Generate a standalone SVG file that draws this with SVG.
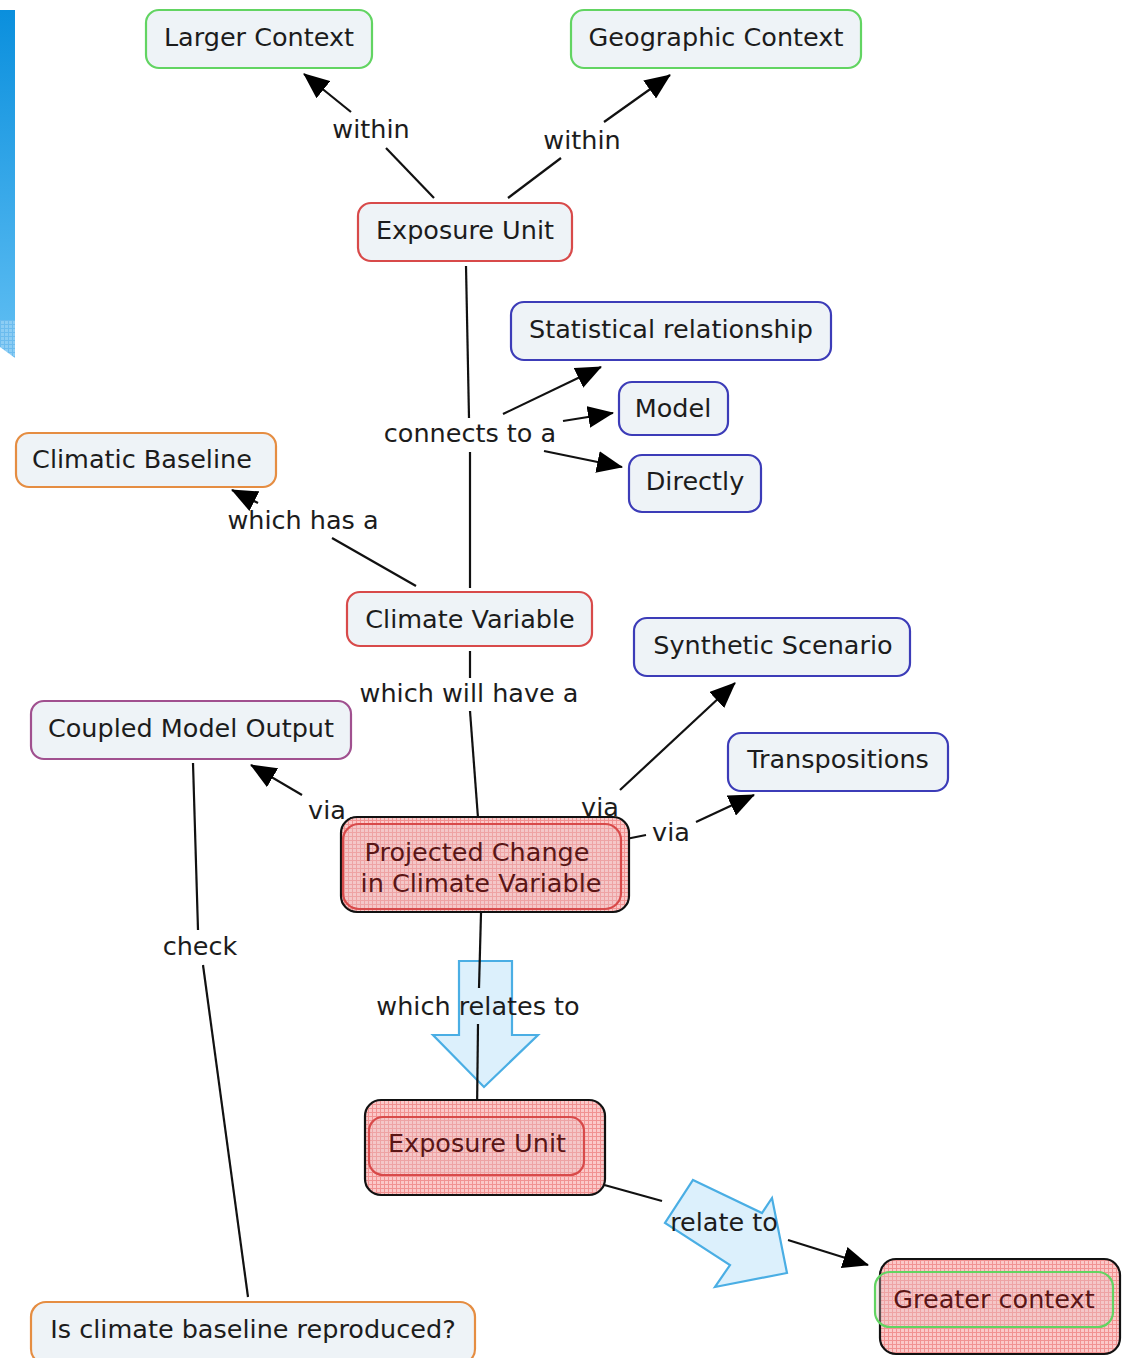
<svg xmlns="http://www.w3.org/2000/svg" width="1123" height="1358" viewBox="0 0 1123 1358">
  <style>
    .t { font-family: "DejaVu Sans", Verdana, sans-serif; font-size: 25.5px; fill: #1c1c1c; text-anchor: middle; }
    .tr { fill: #5a1616; }
    .node { fill: #eef3f7; stroke-width: 2.2; }
    .green { stroke: #62d462; }
    .red { stroke: #d84a4a; }
    .blue { stroke: #3c3cb8; }
    .orange { stroke: #e58d42; }
    .purple { stroke: #a0508f; }
    .outer { fill: url(#hatch); stroke: #111; stroke-width: 2.2; }
    .inner { fill: #e8c2c6; fill-opacity: 0.35; stroke-width: 2.2; }
    .link { fill: none; stroke: #111; stroke-width: 2.2; }
    .arr { marker-end: url(#head); }
    .block { fill: #dcf0fc; stroke: #4aaee4; stroke-width: 2.2; }
  </style>
  <defs>
    <marker id="head" viewBox="0 0 26 22" refX="25" refY="11" markerWidth="26" markerHeight="22" markerUnits="userSpaceOnUse" orient="auto">
      <path d="M0 0 L26 11 L0 22 Z" fill="#000"/>
    </marker>
    <pattern id="hatch" width="4" height="4" patternUnits="userSpaceOnUse">
      <rect width="4" height="4" fill="#fbc9c9"/>
      <path d="M0 0.5 H4 M0.5 0 V4" stroke="#f19292" stroke-width="1"/>
    </pattern>
    <pattern id="bluehatch" width="4" height="4" patternUnits="userSpaceOnUse">
      <rect width="4" height="4" fill="#8ccdf4"/>
      <path d="M0 0.5 H4 M0.5 0 V4" stroke="#6cbcee" stroke-width="1"/>
    </pattern>
    <linearGradient id="bar" x1="0" y1="0" x2="0" y2="1">
      <stop offset="0" stop-color="#0a8fdd"/>
      <stop offset="1" stop-color="#58baf1"/>
    </linearGradient>
  </defs>

  <rect width="1123" height="1358" fill="#ffffff"/>

  <!-- side accent bar -->
  <g id="side-bar">
    <rect x="0" y="10" width="15" height="310" fill="url(#bar)"/>
    <path d="M0 320 H15 V358 L0 347 Z" fill="url(#bluehatch)"/>
  </g>

  <!-- block arrows (drawn beneath connectors) -->
  <g id="block-arrows">
    <path class="block" d="M459 961 H512 V1035 H538 L484 1087 L433 1035 H459 Z"/>
    <path class="block" d="M693 1180 L762 1213 L772 1198 L787 1273 L715 1287 L730 1265 L665 1223 Z"/>
  </g>

  <!-- connectors -->
  <g id="connectors">
    <path class="link" d="M434 198 L386 148"/>
    <path class="link arr" d="M351 112 L304 74"/>
    <path class="link" d="M508 198 L561 158"/>
    <path class="link arr" d="M604 122 L670 75"/>
    <path class="link" d="M466 266 L469 418"/>
    <path class="link arr" d="M503 414 L601 367"/>
    <path class="link arr" d="M563 421 L613 413"/>
    <path class="link arr" d="M544 451 L622 467"/>
    <path class="link" d="M470 452 L470 588"/>
    <path class="link" d="M416 586 L332 538"/>
    <path class="link arr" d="M258 503 L232 490"/>
    <path class="link" d="M470 651 L470 678"/>
    <path class="link" d="M470 711 L478 818"/>
    <path class="link" d="M356 820 L350 818"/>
    <path class="link arr" d="M302 795 L251 765"/>
    <path class="link arr" d="M620 790 L735 683"/>
    <path class="link" d="M626 839 L646 835"/>
    <path class="link arr" d="M696 822 L754 795"/>
    <path class="link" d="M481 913 L479 988"/>
    <path class="link" d="M478 1024 L477 1113"/>
    <path class="link" d="M590 1181 L662 1201"/>
    <path class="link arr" d="M788 1240 L868 1265"/>
    <path class="link" d="M193 763 L198 930"/>
    <path class="link" d="M203 965 L248 1297"/>
  </g>

  <!-- connector labels -->
  <g id="labels">
    <text class="t" x="371" y="138">within</text>
    <text class="t" x="582" y="149">within</text>
    <text class="t" x="470" y="442">connects to a</text>
    <text class="t" x="303" y="529">which has a</text>
    <text class="t" x="469" y="702">which will have a</text>
    <text class="t" x="327" y="819">via</text>
    <text class="t" x="600" y="816">via</text>
    <text class="t" x="671" y="841">via</text>
    <text class="t" x="478" y="1015">which relates to</text>
    <text class="t" x="724" y="1231">relate to</text>
    <text class="t" x="200" y="955">check</text>
  </g>

  <g id="larger-context">
    <rect class="node green" x="146" y="10" width="226" height="58" rx="13"/>
    <text class="t" x="259" y="46">Larger Context</text>
  </g>
  <g id="geographic-context">
    <rect class="node green" x="571" y="10" width="290" height="58" rx="13"/>
    <text class="t" x="716" y="46">Geographic Context</text>
  </g>
  <g id="exposure-unit-top">
    <rect class="node red" x="358" y="203" width="214" height="58" rx="13"/>
    <text class="t" x="465" y="239">Exposure Unit</text>
  </g>
  <g id="statistical-relationship">
    <rect class="node blue" x="511" y="302" width="320" height="58" rx="13"/>
    <text class="t" x="671" y="338">Statistical relationship</text>
  </g>
  <g id="model">
    <rect class="node blue" x="619" y="382" width="109" height="53" rx="13"/>
    <text class="t" x="673" y="417">Model</text>
  </g>
  <g id="directly">
    <rect class="node blue" x="629" y="455" width="132" height="57" rx="13"/>
    <text class="t" x="695" y="490">Directly</text>
  </g>
  <g id="climatic-baseline">
    <rect class="node orange" x="16" y="433" width="260" height="54" rx="13"/>
    <text class="t" x="142" y="468">Climatic Baseline</text>
  </g>
  <g id="climate-variable">
    <rect class="node red" x="347" y="592" width="245" height="54" rx="13"/>
    <text class="t" x="470" y="628">Climate Variable</text>
  </g>
  <g id="synthetic-scenario">
    <rect class="node blue" x="634" y="618" width="276" height="58" rx="13"/>
    <text class="t" x="773" y="654">Synthetic Scenario</text>
  </g>
  <g id="transpositions">
    <rect class="node blue" x="728" y="733" width="220" height="58" rx="13"/>
    <text class="t" x="838" y="768">Transpositions</text>
  </g>
  <g id="coupled-model-output">
    <rect class="node purple" x="31" y="701" width="320" height="58" rx="13"/>
    <text class="t" x="191" y="737">Coupled Model Output</text>
  </g>
  <g id="projected-change">
    <rect class="outer" x="341" y="817" width="288" height="95" rx="16"/>
    <rect class="inner red" x="343" y="824" width="278" height="85" rx="16"/>
    <text class="t tr" x="477" y="861">Projected Change</text>
    <text class="t tr" x="481" y="892">in Climate Variable</text>
  </g>
  <g id="exposure-unit-bottom">
    <rect class="outer" x="365" y="1100" width="240" height="95" rx="16"/>
    <rect class="inner red" x="369" y="1117" width="215" height="58" rx="14"/>
    <text class="t tr" x="477" y="1152">Exposure Unit</text>
  </g>
  <g id="greater-context">
    <rect class="outer" x="880" y="1259" width="240" height="95" rx="16"/>
    <rect class="inner green" x="875" y="1272" width="238" height="55" rx="15"/>
    <text class="t tr" x="994" y="1308">Greater context</text>
  </g>
  <g id="baseline-question">
    <rect class="node orange" x="31" y="1302" width="444" height="62" rx="15"/>
    <text class="t" x="253" y="1338">Is climate baseline reproduced?</text>
  </g>
</svg>
